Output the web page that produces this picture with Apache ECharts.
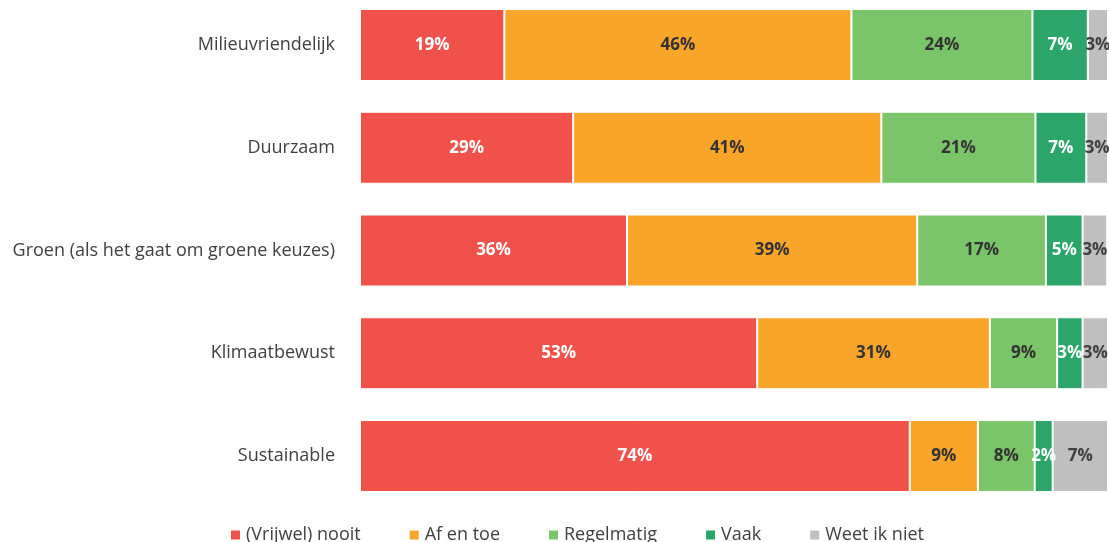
<!DOCTYPE html>
<html>
<head>
<meta charset="utf-8">
<script src="https://cdn.jsdelivr.net/npm/echarts@6/dist/echarts.min.js"></script>
<style>
  html, body { margin: 0; padding: 0; background: #fff; }
  #chart { width: 1109px; height: 542px; }
</style>
</head>
<body>
<div id="chart"></div>
<script>
  var categories = ['Milieuvriendelijk', 'Duurzaam', 'Groen (als het gaat om groene keuzes)', 'Klimaatbewust', 'Sustainable'];
  var seriesNames = ['(Vrijwel) nooit', 'Af en toe', 'Regelmatig', 'Vaak', 'Weet ik niet'];
  var nooit = [19.3, 28.5, 35.7, 53.1, 73.5];
  var afEnToe = [46.4, 41.2, 38.8, 31.1, 9.1];
  var regelmatig = [24.2, 20.6, 17.2, 9.0, 7.6];
  var vaak = [7.4, 6.8, 4.9, 3.4, 2.4];
  var weetNiet = [2.7, 2.9, 3.3, 3.4, 7.4];
  var colors = ['#F0524B', '#F8A52A', '#7AC46A', '#2BA56A', '#BFBFBF'];
  var labelColors = ['#ffffff', '#333333', '#333333', '#ffffff', '#404040'];
  var values = [nooit, afEnToe, regelmatig, vaak, weetNiet];

  var font = 'Open Sans, Liberation Sans, sans-serif';
  var chart = echarts.init(document.getElementById('chart'));

  var series = seriesNames.map(function (name, i) {
    return {
      name: name,
      type: 'bar',
      stack: 'total',
      barWidth: 72,
      data: values[i],
      itemStyle: {
        color: colors[i],
        borderColor: '#ffffff',
        borderWidth: 1
      },
      label: {
        show: true,
        position: 'inside',
        color: labelColors[i],
        fontFamily: font,
        fontWeight: 'bold',
        fontSize: 17,
        formatter: function (p) { return Math.round(p.value) + '%'; }
      }
    };
  });

  chart.setOption({
    animation: false,
    color: colors,
    // boundaryGap off so the category ticks sit on the grid edges
    grid: { left: 360, right: 1, top: 45, height: 411, containLabel: false },
    legend: {
      data: seriesNames,
      left: 224,
      top: 521,
      icon: 'rect',
      itemWidth: 11,
      itemHeight: 11,
      itemGap: 47,
      textStyle: { fontFamily: font, fontSize: 18, color: '#404040' }
    },
    xAxis: {
      type: 'value',
      min: 0,
      max: 100,
      show: false
    },
    yAxis: {
      type: 'category',
      data: categories,
      inverse: true,
      boundaryGap: false,
      axisLine: { show: false },
      axisTick: { show: false },
      splitLine: { show: false },
      axisLabel: { margin: 25, fontFamily: font, fontSize: 18, color: '#404040' }
    },
    series: series
  });
</script>
</body>
</html>
